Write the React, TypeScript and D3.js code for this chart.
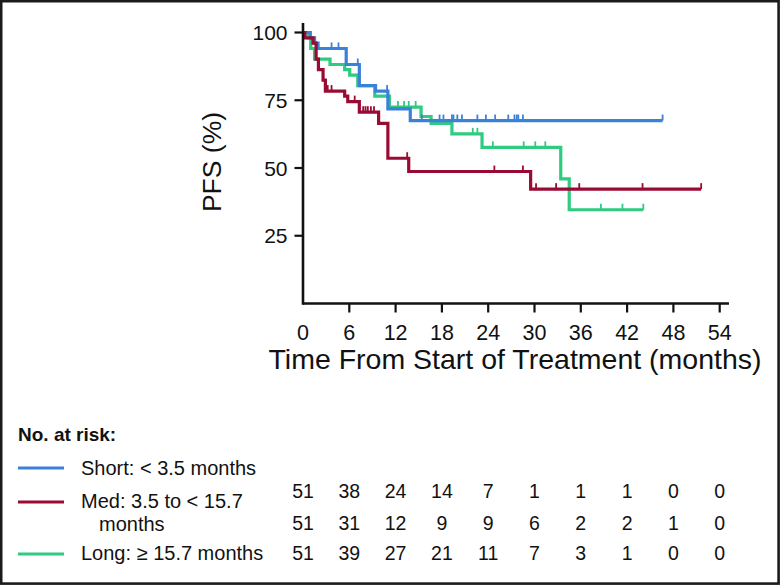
import React from "react";
import * as d3 from "d3";

// ---- Data ----
const xTicks = [0, 6, 12, 18, 24, 30, 36, 42, 48, 54];
const yTicks = [25, 50, 75, 100];

// Short: < 3.5 months
const shortTimes = [0, 0.95, 1.5, 1.95, 5.6, 7.3, 9.4, 11.0, 13.9];
const shortSurv = [100, 98.0, 96.1, 94.1, 88.2, 80.4, 78.4, 71.8, 67.5];
const shortEnd = 46.6;
const shortCensor = [3.7, 4.6, 7.1, 10.9, 15.4, 17.7, 18.2, 19.3, 19.5, 20.0, 20.6, 22.6, 23.7, 24.9, 26.6, 27.4, 27.7, 27.9, 28.5, 46.6];

// Med: 3.5 to < 15.7 months
const medTimes = [0, 0.25, 1.3, 1.7, 2.0, 2.6, 2.9, 5.4, 5.8, 7.3, 9.8, 11.0, 13.7, 29.5];
const medSurv = [100, 98.0, 96.1, 90.2, 86.3, 82.4, 78.4, 76.5, 74.5, 70.6, 66.5, 53.6, 48.7, 42.2];
const medEnd = 51.6;
const medCensor = [3.2, 3.7, 6.7, 7.8, 8.1, 8.4, 8.8, 9.2, 13.5, 24.8, 28.5, 30.2, 32.8, 35.8, 44.0, 51.6];

// Long: >= 15.7 months
const longTimes = [0, 0.65, 1.0, 1.5, 3.5, 5.4, 6.05, 7.1, 9.3, 11.2, 15.3, 16.6, 19.3, 23.2, 33.4, 34.5];
const longSurv = [100, 98.0, 94.1, 90.2, 88.2, 86.3, 84.3, 80.4, 76.5, 72.5, 69.0, 66.5, 62.6, 57.6, 46.0, 34.6];
const longEnd = 44.1;
const longCensor = [12.3, 13.1, 13.7, 14.6, 22.0, 22.6, 24.6, 28.6, 30.1, 31.4, 38.6, 41.4, 44.1];

const seriesNames = ["Short: < 3.5 months", "Med: 3.5 to < 15.7", "Long: \u2265 15.7 months"];
const seriesColors = ["#3a82d8", "#9a0b34", "#2fcb80"];

const riskShort = [51, 38, 24, 14, 7, 1, 1, 1, 0, 0];
const riskMed = [51, 31, 12, 9, 9, 6, 2, 2, 1, 0];
const riskLong = [51, 39, 27, 21, 11, 7, 3, 1, 0, 0];

const W = 780;
const H = 585;
const FONT = "'Liberation Sans', Arial, Helvetica, sans-serif";

export default function App() {
  const x = d3.scaleLinear().domain([0, 54]).range([303, 303 + 54 * (46.3 / 6)]);
  const y = d3.scaleLinear().domain([0, 100]).range([303.5, 32.5]);

  const series = [
    { times: shortTimes, surv: shortSurv, end: shortEnd, censor: shortCensor },
    { times: medTimes, surv: medSurv, end: medEnd, censor: medCensor },
    { times: longTimes, surv: longSurv, end: longEnd, censor: longCensor },
  ];

  const line = d3
    .line<[number, number]>()
    .x((d) => x(d[0]))
    .y((d) => y(d[1]))
    .curve(d3.curveStepAfter);

  const valueAt = (times: number[], surv: number[], t: number) => {
    const i = d3.bisectRight(times, t) - 1;
    return surv[Math.max(0, i)];
  };

  const risks = [riskShort, riskMed, riskLong];
  const riskY = [498, 530, 560];

  return (
    <div style={{ position: "fixed", left: 0, top: 0 }}>
      <svg width={W} height={H} style={{ display: "block", background: "#fff" }}>
        <rect x={1.2} y={1.2} width={W - 2.6} height={H - 2.6} fill="#fff" stroke="#1b1b1b" strokeWidth={2.6} />

        {[2, 0, 1].map((si) => {
          const s = series[si];
          const pts: [number, number][] = s.times.map((t, i) => [t, s.surv[i]] as [number, number]);
          pts.push([s.end, s.surv[s.surv.length - 1]]);
          return (
            <g key={si}>
              <path d={line(pts) || ""} fill="none" stroke={seriesColors[si]} strokeWidth={3.2} />
              {s.censor.map((c, k) => {
                const v = valueAt(s.times, s.surv, c);
                return (
                  <line
                    key={k}
                    x1={x(c)}
                    x2={x(c)}
                    y1={y(v)}
                    y2={y(v) - 6}
                    stroke={seriesColors[si]}
                    strokeWidth={1.8}
                  />
                );
              })}
            </g>
          );
        })}

        {/* axes */}
        <line x1={x(0)} x2={x(55.2)} y1={303.5} y2={303.5} stroke="#111" strokeWidth={2.6} />
        <line x1={x(0)} x2={x(0)} y1={y(103.5)} y2={304.8} stroke="#111" strokeWidth={2.6} />
        {xTicks.filter((t) => t > 0).map((t) => (
          <line key={t} x1={x(t)} x2={x(t)} y1={303.5} y2={312.5} stroke="#111" strokeWidth={2.2} />
        ))}
        {yTicks.map((t) => (
          <line key={t} x1={294.5} x2={x(0)} y1={y(t)} y2={y(t)} stroke="#111" strokeWidth={2.2} />
        ))}
        {xTicks.map((t) => (
          <text key={t} x={x(t)} y={339.5} textAnchor="middle" fontFamily={FONT} fontSize={21.5} fill="#111">
            {t}
          </text>
        ))}
        {yTicks.map((t) => (
          <text key={t} x={287.5} y={y(t) + 7.5} textAnchor="end" fontFamily={FONT} fontSize={21} fill="#111">
            {t}
          </text>
        ))}

        <text x={515} y={369} textAnchor="middle" fontFamily={FONT} fontSize={28.5} fill="#111">
          Time From Start of Treatment (months)
        </text>
        <text
          transform={`translate(221,162) rotate(-90)`}
          textAnchor="middle"
          fontFamily={FONT}
          fontSize={26.5}
          fill="#111"
        >
          PFS (%)
        </text>

        {/* risk table */}
        <text x={18} y={441} fontFamily={FONT} fontSize={19} fontWeight="bold" fill="#111">
          No. at risk:
        </text>
        <line x1={18} x2={64} y1={468} y2={468} stroke={seriesColors[0]} strokeWidth={3} />
        <text x={81} y={475} fontFamily={FONT} fontSize={20} fill="#111">
          {seriesNames[0]}
        </text>
        <line x1={18} x2={64} y1={502} y2={502} stroke={seriesColors[1]} strokeWidth={3} />
        <text x={81} y={508} fontFamily={FONT} fontSize={20} fill="#111">
          {seriesNames[1]}
        </text>
        <text x={99} y={530.5} fontFamily={FONT} fontSize={20} fill="#111">
          months
        </text>
        <line x1={18} x2={64} y1={554} y2={554} stroke={seriesColors[2]} strokeWidth={3} />
        <text x={81} y={560} fontFamily={FONT} fontSize={20} fill="#111">
          {seriesNames[2]}
        </text>

        {risks.map((row, ri) =>
          row.map((v, ci) => (
            <text
              key={`${ri}-${ci}`}
              x={x(xTicks[ci])}
              y={riskY[ri]}
              textAnchor="middle"
              fontFamily={FONT}
              fontSize={19.5}
              fill="#111"
            >
              {v}
            </text>
          ))
        )}
      </svg>
    </div>
  );
}
